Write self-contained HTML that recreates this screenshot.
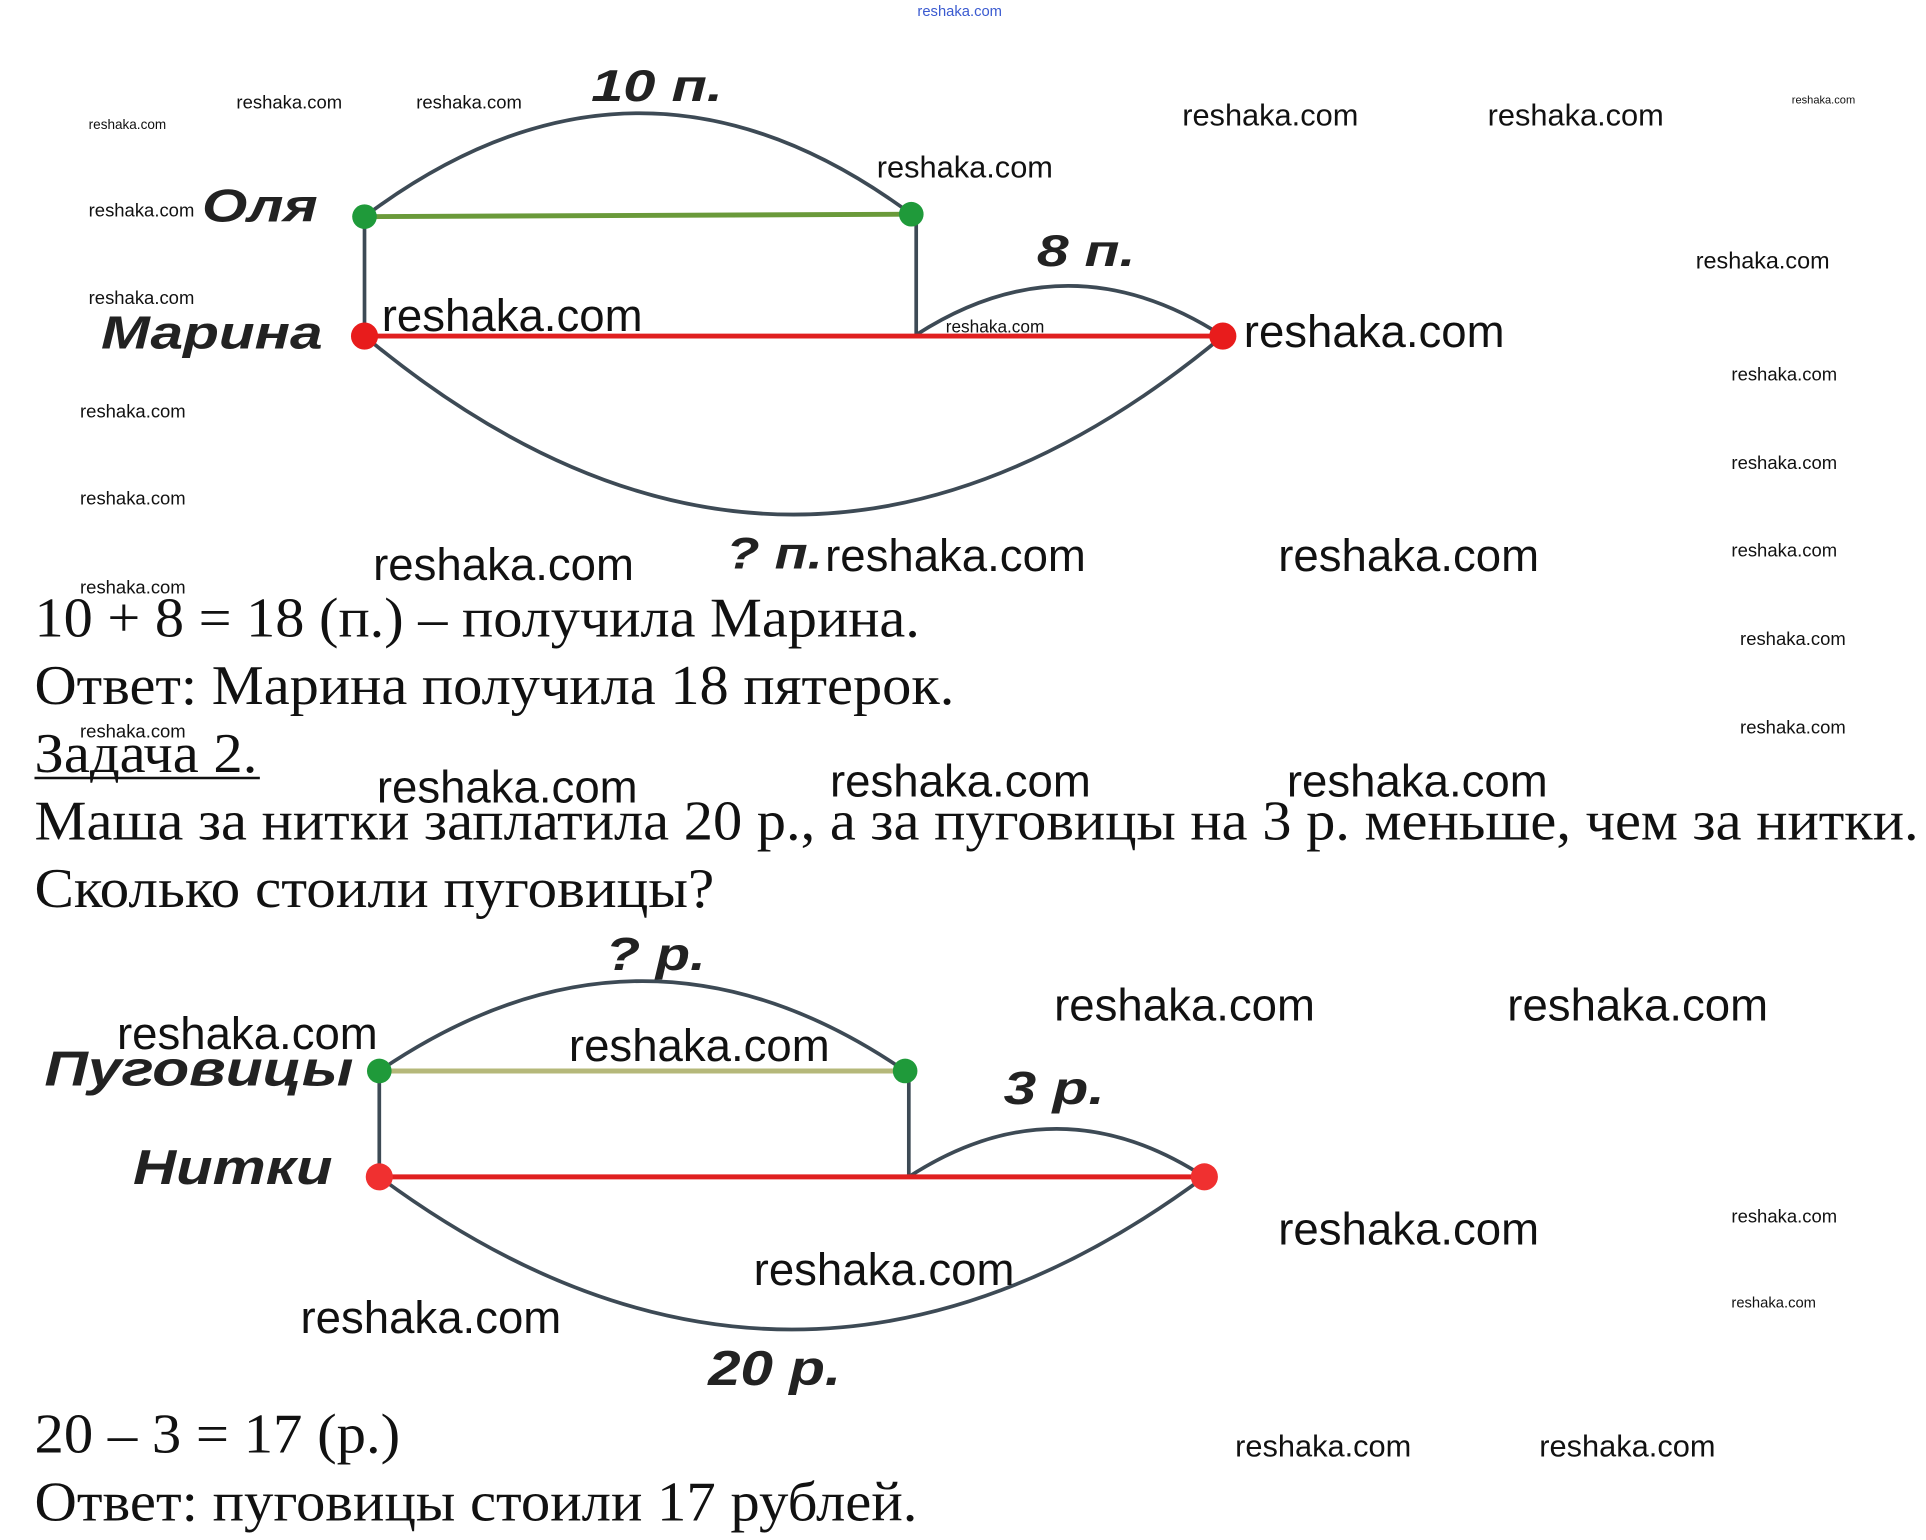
<!DOCTYPE html>
<html><head><meta charset="utf-8"><style>
html,body{margin:0;padding:0;background:#fff;}
svg{display:block}
.lab{font-family:"Liberation Sans","DejaVu Sans",sans-serif;font-weight:bold;font-style:italic;fill:#222}
.t{font-family:"Liberation Serif","DejaVu Serif",serif;fill:#111;font-size:46px}
.w{font-family:"Liberation Sans","DejaVu Sans",sans-serif;fill:#111}
</style></head><body>
<svg width="1926" height="1540" viewBox="0 0 1564 1251" preserveAspectRatio="none" xmlns="http://www.w3.org/2000/svg">
<rect width="1564" height="1251" fill="#fff"/>
<g fill="none" stroke="#3d4a55" stroke-width="3">
<path d="M296 176 Q518 9 740 174"/>
<path d="M744 272 Q868 192 993 273"/>
<path d="M296 273 Q644 563 993 273"/>
<line x1="296" y1="176" x2="296" y2="273"/>
<line x1="744" y1="174" x2="744" y2="272"/>
</g>
<line x1="296" y1="176" x2="740" y2="174" stroke="#6a9a3a" stroke-width="4"/>
<line x1="296" y1="273" x2="993" y2="273" stroke="#e02020" stroke-width="4"/>
<circle cx="296" cy="176" r="10" fill="#1f9a3a"/><circle cx="740" cy="174" r="10" fill="#1f9a3a"/>
<circle cx="296" cy="273" r="11" fill="#e81c1c"/><circle cx="993" cy="273" r="11" fill="#e81c1c"/>
<g lengthAdjust="spacingAndGlyphs">
<text class="lab" x="480" y="82" font-size="36" textLength="107" lengthAdjust="spacingAndGlyphs">10 п.</text>
<text class="lab" x="164" y="180" font-size="38" textLength="94" lengthAdjust="spacingAndGlyphs">Оля</text>
<text class="lab" x="82" y="283" font-size="38" textLength="180" lengthAdjust="spacingAndGlyphs">Марина</text>
<text class="lab" x="842" y="216" font-size="36" textLength="80" lengthAdjust="spacingAndGlyphs">8 п.</text>
<text class="lab" x="590" y="462" font-size="36" textLength="78" lengthAdjust="spacingAndGlyphs">? п.</text>
</g>
<text class="t" x="28" y="517" textLength="719" lengthAdjust="spacingAndGlyphs">10 + 8 = 18 (п.) – получила Марина.</text>
<text class="t" x="28" y="572" textLength="747" lengthAdjust="spacingAndGlyphs">Ответ: Марина получила 18 пятерок.</text>
<text class="t" x="28" y="627" textLength="181" lengthAdjust="spacingAndGlyphs">Задача 2.</text>
<line x1="28" y1="632" x2="211" y2="632" stroke="#111" stroke-width="2"/>
<text class="t" x="28" y="682" textLength="1530" lengthAdjust="spacingAndGlyphs">Маша за нитки заплатила 20 р., а за пуговицы на 3 р. меньше, чем за нитки.</text>
<text class="t" x="28" y="737" textLength="552" lengthAdjust="spacingAndGlyphs">Сколько стоили пуговицы?</text>
<g fill="none" stroke="#3d4a55" stroke-width="3">
<path d="M308 870 Q522 724 735 870"/>
<path d="M738 956 Q858 878 978 956"/>
<path d="M308 956 Q643 1204 978 956"/>
<line x1="308" y1="870" x2="308" y2="956"/>
<line x1="738" y1="870" x2="738" y2="956"/>
</g>
<line x1="308" y1="870" x2="735" y2="870" stroke="#b5b87a" stroke-width="4"/>
<line x1="308" y1="956" x2="978" y2="956" stroke="#e02020" stroke-width="4"/>
<circle cx="308" cy="870" r="10" fill="#1f9a3a"/><circle cx="735" cy="870" r="10" fill="#1f9a3a"/>
<circle cx="308" cy="956" r="11" fill="#f03030"/><circle cx="978" cy="956" r="11" fill="#f03030"/>
<text class="lab" x="492" y="788" font-size="38" textLength="81" lengthAdjust="spacingAndGlyphs">? р.</text>
<text class="lab" x="36" y="882" font-size="40" textLength="251" lengthAdjust="spacingAndGlyphs">Пуговицы</text>
<text class="lab" x="108" y="962" font-size="40" textLength="162" lengthAdjust="spacingAndGlyphs">Нитки</text>
<text class="lab" x="815" y="897" font-size="38" textLength="82" lengthAdjust="spacingAndGlyphs">3 р.</text>
<text class="lab" x="575" y="1125" font-size="40" textLength="108" lengthAdjust="spacingAndGlyphs">20 р.</text>
<text class="t" x="28" y="1180" textLength="297" lengthAdjust="spacingAndGlyphs">20 – 3 = 17 (р.)</text>
<text class="t" x="28" y="1235" textLength="717" lengthAdjust="spacingAndGlyphs">Ответ: пуговицы стоили 17 рублей.</text>
<g class="w">
<text x="745" y="13" font-size="12" fill="#3a5ad0">reshaka.com</text>
<text x="72" y="105" font-size="11">reshaka.com</text>
<text x="192" y="88" font-size="15">reshaka.com</text>
<text x="338" y="88" font-size="15">reshaka.com</text>
<text x="960" y="102" font-size="25">reshaka.com</text>
<text x="1208" y="102" font-size="25">reshaka.com</text>
<text x="1455" y="84" font-size="9">reshaka.com</text>
<text x="712" y="144" font-size="25">reshaka.com</text>
<text x="72" y="176" font-size="15">reshaka.com</text>
<text x="1377" y="218" font-size="19">reshaka.com</text>
<text x="72" y="247" font-size="15">reshaka.com</text>
<text x="310" y="269" font-size="37">reshaka.com</text>
<text x="768" y="270" font-size="14">reshaka.com</text>
<text x="1010" y="282" font-size="37">reshaka.com</text>
<text x="1406" y="309" font-size="15">reshaka.com</text>
<text x="65" y="339" font-size="15">reshaka.com</text>
<text x="1406" y="381" font-size="15">reshaka.com</text>
<text x="65" y="410" font-size="15">reshaka.com</text>
<text x="1406" y="452" font-size="15">reshaka.com</text>
<text x="303" y="471" font-size="37">reshaka.com</text>
<text x="670" y="464" font-size="37">reshaka.com</text>
<text x="1038" y="464" font-size="37">reshaka.com</text>
<text x="65" y="482" font-size="15">reshaka.com</text>
<text x="1413" y="524" font-size="15">reshaka.com</text>
<text x="1413" y="596" font-size="15">reshaka.com</text>
<text x="65" y="599" font-size="15">reshaka.com</text>
<text x="306" y="652" font-size="37">reshaka.com</text>
<text x="674" y="647" font-size="37">reshaka.com</text>
<text x="1045" y="647" font-size="37">reshaka.com</text>
<text x="856" y="829" font-size="37">reshaka.com</text>
<text x="1224" y="829" font-size="37">reshaka.com</text>
<text x="95" y="852" font-size="37">reshaka.com</text>
<text x="462" y="862" font-size="37">reshaka.com</text>
<text x="1038" y="1011" font-size="37">reshaka.com</text>
<text x="1406" y="993" font-size="15">reshaka.com</text>
<text x="612" y="1044" font-size="37">reshaka.com</text>
<text x="1406" y="1062" font-size="12">reshaka.com</text>
<text x="244" y="1083" font-size="37">reshaka.com</text>
<text x="1003" y="1183" font-size="25">reshaka.com</text>
<text x="1250" y="1183" font-size="25">reshaka.com</text>
</g>
</svg>
</body></html>
